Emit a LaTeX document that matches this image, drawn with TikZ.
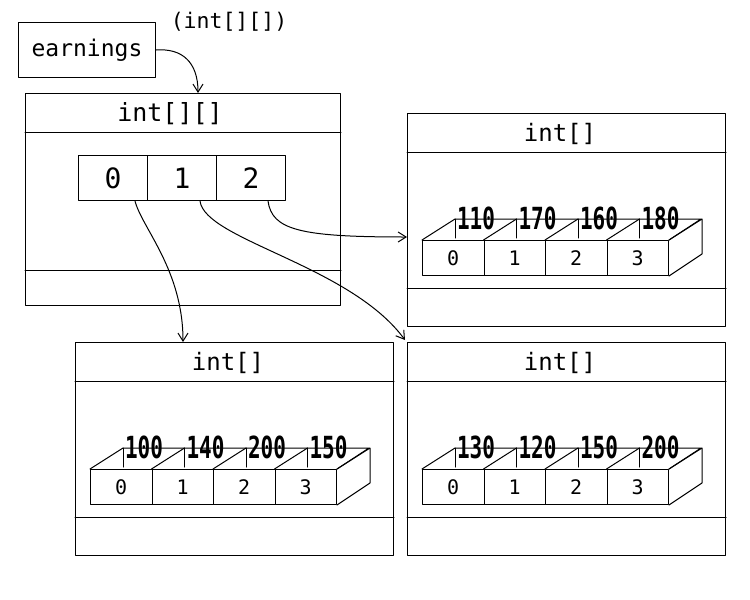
\documentclass[tikz,border=0pt]{standalone}
\usepackage{fontspec}
\setmainfont{DejaVu Sans Mono}
\usetikzlibrary{arrows.meta,calc}
\newcommand{\fs}[1]{\fontsize{#1}{#1}\selectfont}
\newcommand{\tallval}[1]{\scalebox{1}[1.45]{#1}}
\tikzset{
  ln/.style={line width=1pt, line join=round, line cap=round},
  frame/.style={ln, draw, anchor=north west, inner sep=0pt},
  mcell/.style={ln, draw, anchor=north west, minimum width=69pt, minimum height=45pt, inner sep=0pt, font=\fs{28}},
  acell/.style={ln, draw, anchor=north west, minimum width=61.5pt, minimum height=35pt, inner sep=0pt, font=\fs{20}},
  val/.style={font=\bfseries\fs{21}, inner sep=0pt},
  ttl/.style={inner sep=0pt},
  arr/.style={ln, -{Straight Barb[length=8pt,width=10pt,line width=1pt]}},
}
% 3D array: #1 x0, #2 y0, #3 prefix, #4-#7 values
\newcommand{\drawarr}[7]{%
  \foreach \k in {0,1,2,3} {
    \node[acell] (#3\k) at ({#1+61.5*\k},#2) {\k};
  }
  \draw[ln] (#30.north west) -- ++(33,-21) -- ++(246,0) -- (#33.north east);
  \foreach \k in {1,2,3} { \draw[ln] (#3\k.north west) -- ++(33,-21); }
  \foreach \k in {0,1,2,3} { \draw[ln] ($(#3\k.north west)+(33,-21)$) -- ++(0,19); }
  \draw[ln] (#33.north east) -- ++(33,-21) -- ++(0,35) -- (#33.south east);
  \node[val] at ($(#30.north west)+(54,-22)$) {\tallval{#4}};
  \node[val] at ($(#31.north west)+(54,-22)$) {\tallval{#5}};
  \node[val] at ($(#32.north west)+(54,-22)$) {\tallval{#6}};
  \node[val] at ($(#33.north west)+(54,-22)$) {\tallval{#7}};
}
% int[] box: #1 x, #2 y, #3 name
\newcommand{\intbox}[3]{%
  \node[frame, minimum width=318pt, minimum height=213pt] (#3) at (#1,#2) {};
  \draw[ln] ($(#3.north west)+(0,39)$) -- ($(#3.north east)+(0,39)$);
  \draw[ln] ($(#3.north west)+(0,175)$) -- ($(#3.north east)+(0,175)$);
  \node[ttl, font=\fs{24}] at ($(#3.north west)+(153,21)$) {int[]};
}
\begin{document}
\begin{tikzpicture}[x=1pt,y=-1pt]
\useasboundingbox (0,0) rectangle (750,600);

% variable
\node[frame, minimum width=137pt, minimum height=55pt, font=\fs{23}] (earn) at (18,22) {earnings};
\node[ttl, font=\fs{21.5}] (typ) at (229,22) {(int[][])};

% main 2D array object
\node[frame, minimum width=315pt, minimum height=212pt] (main) at (25,93) {};
\draw[ln] ($(main.north west)+(0,39)$) -- ($(main.north east)+(0,39)$);
\draw[ln] ($(main.north west)+(0,177)$) -- ($(main.north east)+(0,177)$);
\node[ttl, font=\fs{25}] (mtitle) at (170,114) {int[][]};
\node[mcell] (c0) at (78,155) {0};
\node[mcell] (c1) at (147,155) {1};
\node[mcell] (c2) at (216,155) {2};

% int[] objects
\intbox{407}{113}{tr}
\intbox{75}{342}{bl}
\intbox{407}{342}{br}

\drawarr{422}{240}{a}{110}{170}{160}{180}
\drawarr{90}{469}{b}{100}{140}{200}{150}
\drawarr{422}{469}{d}{130}{120}{150}{200}

% connectors
\draw[arr] (earn.east) .. controls (182,48) and (198,62) .. ($(main.north west)+(173,0)$);
\draw[arr] ($(c0.south west)+(57,0)$) .. controls (142,228) and (183,270) .. ($(bl.north west)+(108,0)$);
\draw[arr] ($(c1.south west)+(53,0)$) .. controls (205,240) and (350,265) .. ($(br.north west)+(-2,-2)$);
\draw[arr] ($(c2.south west)+(52,0)$) .. controls (272,230) and (300,237) .. ($(tr.north west)+(0,124)$);
\end{tikzpicture}
\end{document}
